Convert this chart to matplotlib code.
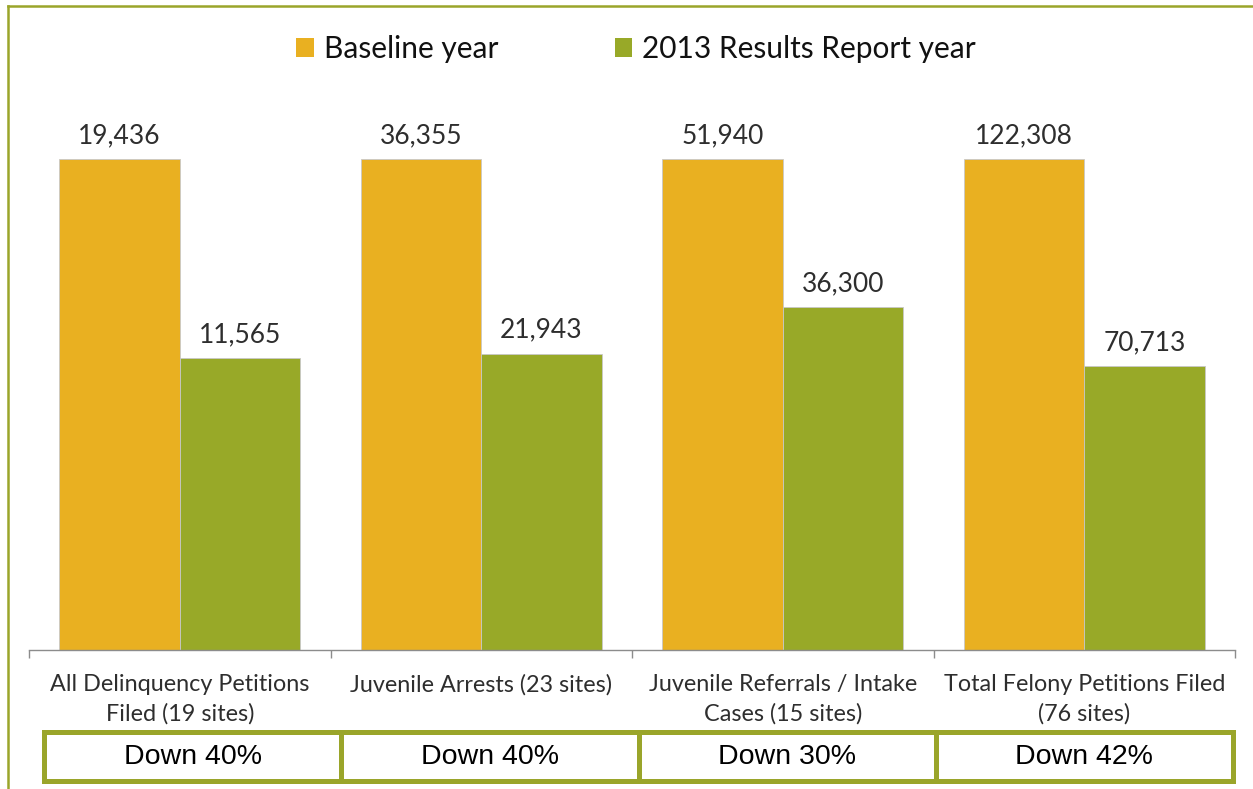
import matplotlib
matplotlib.use("Agg")
import matplotlib.pyplot as plt
from matplotlib.patches import Rectangle, Patch
from matplotlib.lines import Line2D

# --- data -------------------------------------------------------------
categories = [
    "All Delinquency Petitions\nFiled (19 sites)",
    "Juvenile Arrests (23 sites)",
    "Juvenile Referrals / Intake\nCases (15 sites)",
    "Total Felony Petitions Filed\n(76 sites)",
]
baseline = [19436, 36355, 51940, 122308]
results_2013 = [11565, 21943, 36300, 70713]
change_labels = ["Down 40%", "Down 40%", "Down 30%", "Down 42%"]
series_names = ["Baseline year", "2013 Results Report year"]

# --- style --------------------------------------------------------------
ORANGE = "#E9B021"
GREEN = "#98A928"
OLIVE = "#9AA52A"
TEXT = "#2E2E2E"
LABEL_FONT = ["Lato", "DejaVu Sans"]
BOX_FONT = ["Liberation Sans", "DejaVu Sans"]

W, H = 1253, 789
fig = plt.figure(figsize=(W / 100, H / 100), dpi=100)
fig.patch.set_facecolor("white")

# chart area
ax = fig.add_axes([29 / W, 139 / H, 1206 / W, 560 / H])
ax.set_xlim(-0.5, len(categories) - 0.5)
ax.set_ylim(0, 560 / 491)

# bars shown relative to the baseline year
rel_base = [b / b for b in baseline]
rel_res = [r / b for r, b in zip(results_2013, baseline)]
x = list(range(len(categories)))
bw = 0.4
bars_b = ax.bar([i - bw / 2 for i in x], rel_base, width=bw, color=ORANGE,
                edgecolor="#C8C8C8", linewidth=0.6)
bars_r = ax.bar([i + bw / 2 for i in x], rel_res, width=bw, color=GREEN,
                edgecolor="#C8C8C8", linewidth=0.6)

for bars, vals in ((bars_b, baseline), (bars_r, results_2013)):
    for rect, v in zip(bars, vals):
        ax.annotate(f"{v:,}", (rect.get_x() + rect.get_width() / 2, rect.get_height()),
                    xytext=(0, 11.5), textcoords="offset points",
                    ha="center", va="baseline", fontsize=19,
                    family=LABEL_FONT, color=TEXT)

# axes styling
for s in ("top", "right", "left"):
    ax.spines[s].set_visible(False)
ax.spines["bottom"].set_color("#8C8C8C")
ax.spines["bottom"].set_linewidth(1.0)
ax.set_yticks([])
ax.set_xticks([i - 0.5 for i in range(len(categories) + 1)])
ax.set_xticklabels([])
ax.tick_params(axis="x", direction="out", length=5.5, width=1.0, color="#8C8C8C")
for i, lab in enumerate(categories):
    ax.text(i, -0.043, lab, ha="center", va="top", fontsize=16.8,
            family=LABEL_FONT, color=TEXT, linespacing=1.45,
            transform=ax.get_xaxis_transform())

# legend
handles = [Patch(facecolor=ORANGE, edgecolor="none"),
           Patch(facecolor=GREEN, edgecolor="none")]
leg = fig.legend(handles, series_names, loc="center",
                 bbox_to_anchor=(636 / W, 1 - 49 / H), ncol=2, frameon=False,
                 prop={"family": LABEL_FONT, "size": 21.5},
                 handlelength=0.58, handleheight=0.58, handletextpad=0.33,
                 columnspacing=3.9, borderaxespad=0)
for t in leg.get_texts():
    t.set_color("#111111")

# summary boxes beneath the categories
bx = fig.add_axes([44 / W, (H - 781) / H, (1233 - 44) / W, 49 / H])
bx.set_xlim(0, len(categories))
bx.set_ylim(0, 1)
bx.axis("off")
bx.add_patch(Rectangle((0, 0), len(categories), 1, fill=False, edgecolor=OLIVE,
                       linewidth=3.6, clip_on=False))
for i in range(1, len(categories)):
    bx.plot([i, i], [0, 1], color=OLIVE, linewidth=3.6, clip_on=False,
            solid_capstyle="butt")
for i, lab in enumerate(change_labels):
    bx.text(i + 0.5, 0.5, lab, ha="center", va="center", fontsize=20.5,
            family=BOX_FONT, color="black")

# outer frame lines (top and left)
fig.add_artist(Line2D([8 / W, 1], [1 - 6 / H, 1 - 6 / H], color=OLIVE, linewidth=1.8,
                      transform=fig.transFigure))
fig.add_artist(Line2D([8 / W, 8 / W], [0, 1 - 6 / H], color=OLIVE, linewidth=1.8,
                      transform=fig.transFigure))

fig.savefig("out.png", dpi=100, facecolor="white")
